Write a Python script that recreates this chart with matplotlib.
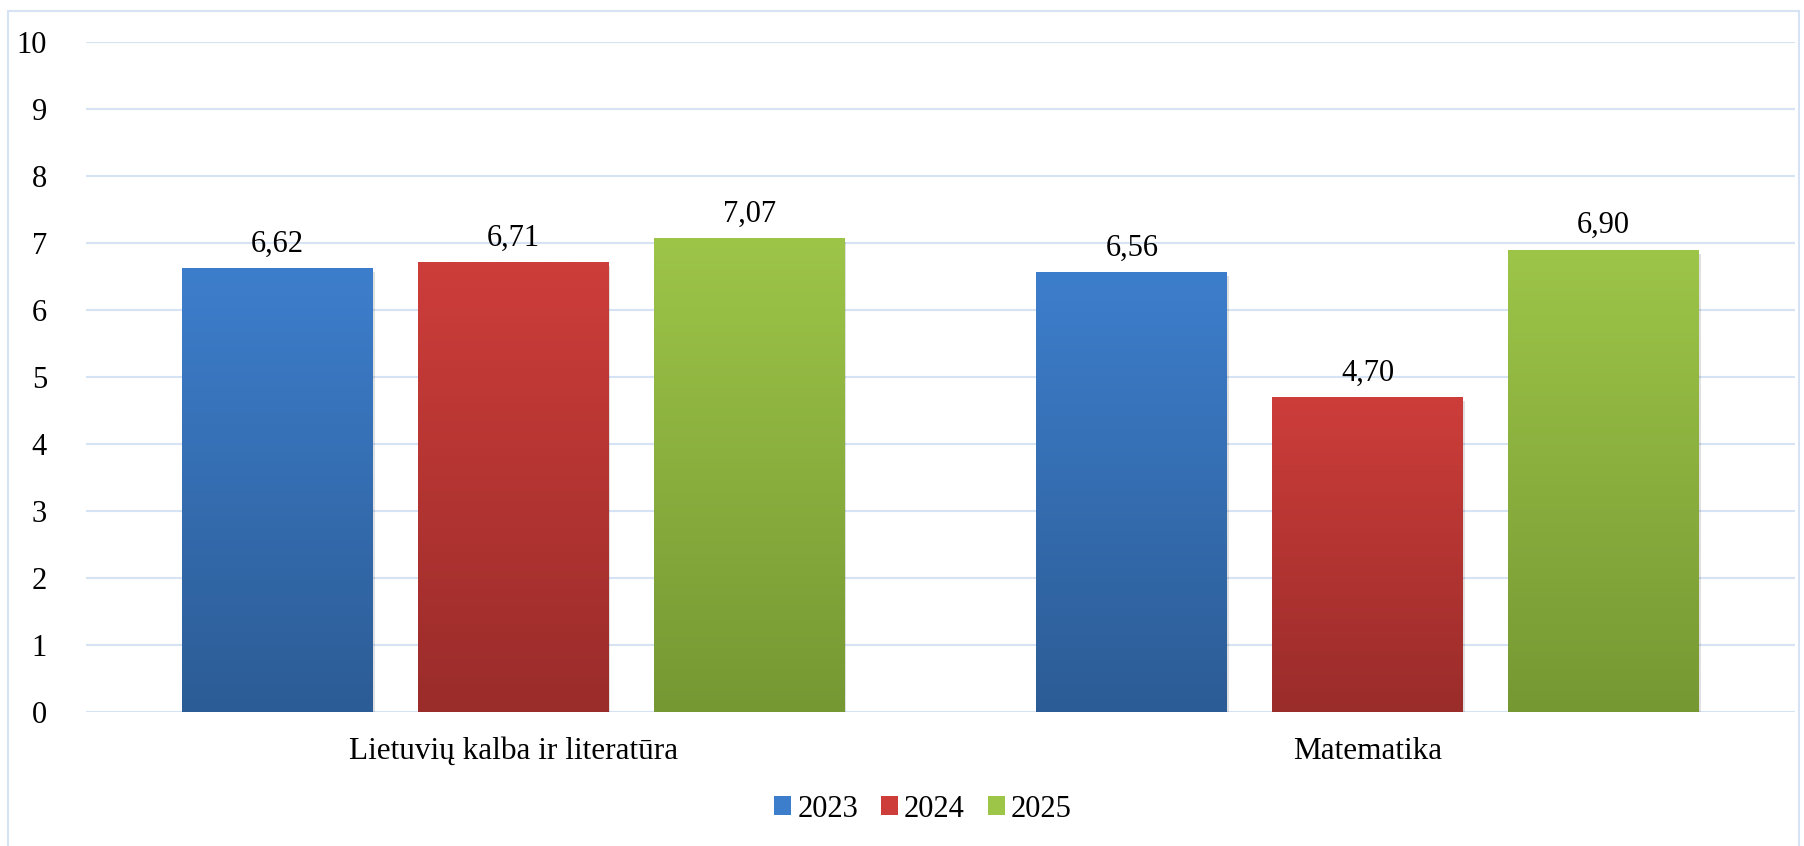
import matplotlib
matplotlib.use("Agg")
import matplotlib.pyplot as plt
import numpy as np
from matplotlib.colors import LinearSegmentedColormap
from matplotlib.patches import Rectangle

categories = ["Lietuvių kalba ir literatūra", "Matematika"]
years = ["2023", "2024", "2025"]
values_2023 = [6.62, 6.56]
values_2024 = [6.71, 4.70]
values_2025 = [7.07, 6.90]
series = [values_2023, values_2024, values_2025]
yticks = [0, 1, 2, 3, 4, 5, 6, 7, 8, 9, 10]

top_colors = ["#3D7ECC", "#CD3D3A", "#9DC548"]
bot_colors = ["#2C5C95", "#9A2C2A", "#769833"]

plt.rcParams['font.family'] = ['Liberation Serif', 'DejaVu Serif']

W, H = 1804, 846
fig = plt.figure(figsize=(W / 100, H / 100), dpi=100)
ax = fig.add_axes([86 / W, 1 - 712 / H, (1795 - 86) / W, (712 - 42) / H])

grid_c = "#D5E3F4"
# outer border
fig.patches.append(Rectangle((8 / W, -0.01), (1799 - 8) / W, 1 - 11 / H + 0.01,
                             transform=fig.transFigure, fill=False,
                             edgecolor=grid_c, linewidth=1.5))

x = np.arange(len(categories))
step = 0.276
width = 0.2235
handles = []
for i, vals in enumerate(series):
    pos = x + (i - 1) * step
    bars = ax.bar(pos, vals, width=width, color=top_colors[i], zorder=3,
                  label=years[i])
    cmap = LinearSegmentedColormap.from_list("g%d" % i, [bot_colors[i], top_colors[i]])
    for b, v in zip(bars, vals):
        x0 = b.get_x()
        # subtle shadow
        ax.add_patch(Rectangle((x0 + 0.002, -0.06), b.get_width(), v,
                               facecolor="#000000", alpha=0.12, zorder=2,
                               linewidth=0))
        grad = np.linspace(0, 1, 256).reshape(-1, 1)
        im = ax.imshow(grad, extent=[x0, x0 + b.get_width(), 0, v], origin="lower",
                       aspect="auto", cmap=cmap, zorder=4)
        im.set_clip_path(b)
        ax.annotate(f"{v:.2f}".replace(".", ","), (b.get_x() + b.get_width() / 2, v),
                    xytext=(0, 7), textcoords="offset points",
                    ha="center", va="bottom", fontsize=22, color="black", zorder=5)
    handles.append(bars)

ax.set_xlim(-0.5, 1.5)
ax.set_ylim(0, 10)
ax.set_yticks(yticks)
ax.set_yticklabels([str(t) for t in yticks], fontsize=22)
ax.set_xticks(x)
ax.set_xticklabels(categories, fontsize=22.5)
ax.tick_params(axis="both", length=0)
ax.tick_params(axis="y", pad=28)
ax.tick_params(axis="x", pad=18)
ax.grid(axis="y", color=grid_c, linewidth=1.5, zorder=0)
ax.set_axisbelow(True)
for s in ax.spines.values():
    s.set_visible(False)

leg = fig.legend(handles=handles, labels=years, loc="center",
                 bbox_to_anchor=(923 / W, 1 - 809 / H), ncol=3, frameon=False,
                 fontsize=22, handlelength=0.55, handleheight=0.55,
                 handletextpad=0.2, columnspacing=0.75)
for h, c0, c1 in zip(leg.legend_handles, top_colors, bot_colors):
    h.set_facecolor(c0)

fig.savefig("out.png", dpi=100)
